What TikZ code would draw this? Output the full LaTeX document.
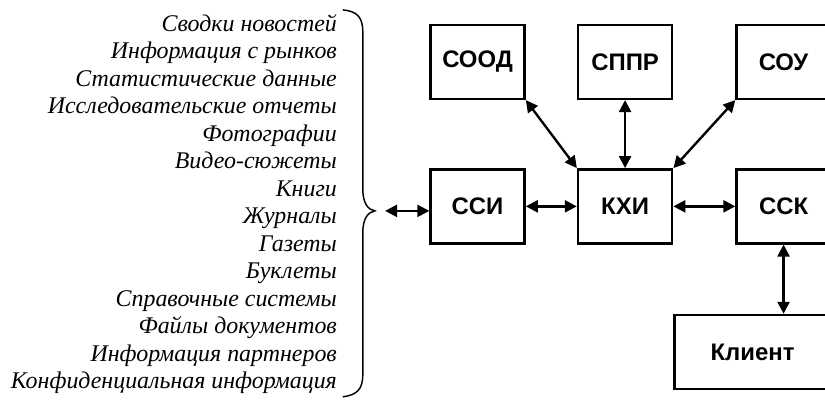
\documentclass[tikz,border=0pt]{standalone}
\usepackage{fontspec}
\setmainfont{Liberation Serif}
\setsansfont{Liberation Sans}
\usetikzlibrary{arrows.meta,positioning}
\tikzset{
  block/.style={
    draw,
    line width=1.8pt,
    minimum width=2.49cm,
    minimum height=1.96cm,
    inner sep=2pt,
    font=\sffamily\bfseries\fontsize{18}{21}\selectfont
  },
  wideblock/.style={
    block,
    minimum width=4.13cm
  },
  sources/.style={
    align=right,
    inner sep=0pt,
    font=\itshape\fontsize{18}{20.7}\selectfont
  },
  brace/.style={line width=1.1pt},
  link/.style={{Triangle[length=9pt,width=9pt]}-{Triangle[length=9pt,width=9pt]},line width=1.8pt}
}

\begin{document}
\begin{tikzpicture}[node distance=1.8cm and 1.35cm]
  \useasboundingbox (0,0) rectangle (21.83,-10.58);
  % центральный узел и соседи
  \node[block] (kxi) at (16.54,-5.46) {КХИ};
  \node[block,left=1.35cm of kxi] (ssi) {ССИ};
  \node[block,right=1.64cm of kxi] (ssk) {ССК};
  \node[block,above=of ssi] (sood) {СООД};
  \node[block,above=of kxi] (sppr) {СППР};
  \node[block,above=of ssk] (sou) {СОУ};
  \node[wideblock,below=1.83cm of ssk.south east,anchor=north east] (klient) {Клиент};
  % источники информации
  \node[sources,anchor=east] (src) at (8.92,-5.40) {Сводки новостей\\Информация с рынков\\Статистические данные\\Исследовательские отчеты\\Фотографии\\Видео-сюжеты\\Книги\\Журналы\\Газеты\\Буклеты\\Справочные системы\\Файлы документов\\Информация партнеров\\Конфиденциальная информация};
  \draw[brace] (9.07,-0.26) .. controls (9.45,-0.30) and (9.60,-0.45) .. (9.60,-0.85)
    -- (9.60,-5.0) .. controls (9.60,-5.40) and (9.75,-5.55) .. (9.92,-5.58)
    .. controls (9.75,-5.61) and (9.60,-5.76) .. (9.60,-6.16)
    -- (9.60,-9.9) .. controls (9.60,-10.30) and (9.45,-10.45) .. (9.07,-10.50);
  \coordinate (tip) at (10.19,-5.58);
  \draw[link] (tip) -- (ssi.west |- tip);
  \draw[link] (ssi) -- (kxi);
  \draw[link] (kxi) -- (ssk);
  \draw[link] (sood.south east) -- (kxi.north west);
  \draw[link] (sppr) -- (kxi);
  \draw[link] (sou.south west) -- (kxi.north east);
  \draw[link] (ssk.south) -- (ssk.south |- klient.north);
\end{tikzpicture}
\end{document}
